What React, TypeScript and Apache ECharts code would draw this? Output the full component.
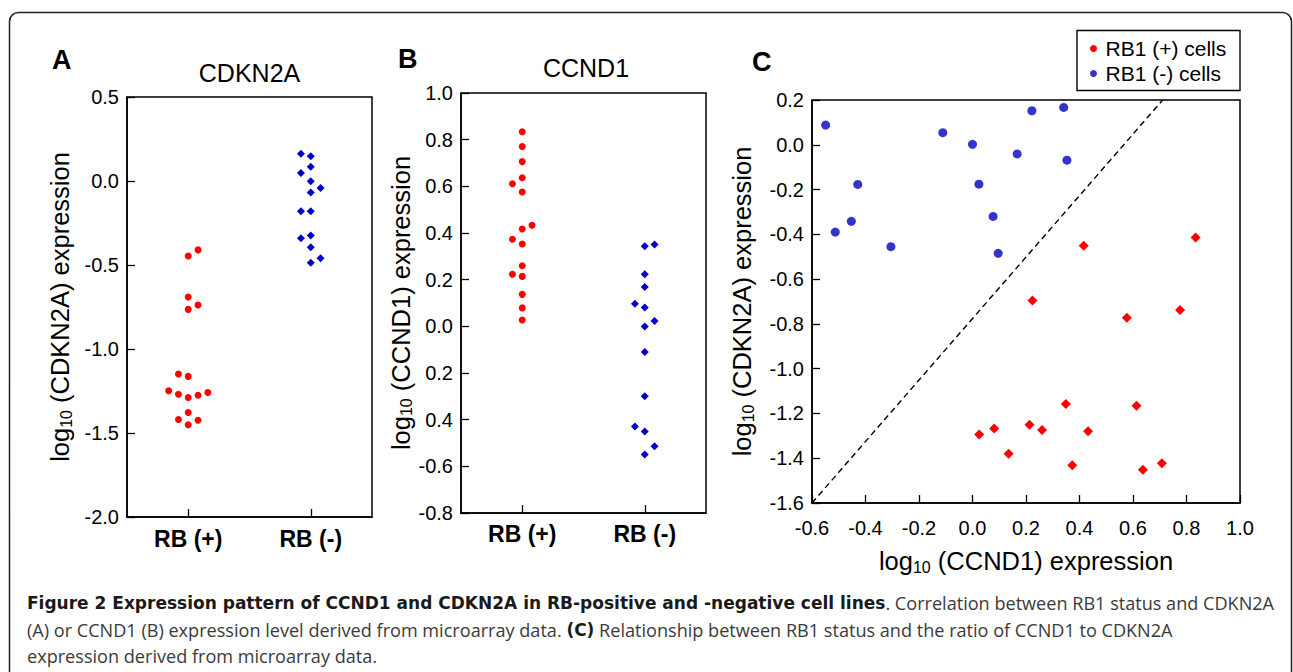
import React, { useEffect, useRef } from 'react';
import * as echarts from 'echarts';

// ---------- data ----------
const groupLabels = ['RB (+)', 'RB (-)'];
const laneWidth = 0.08;

// Panel A: log10 CDKN2A expression
const cdkn2aPosValues = [-0.41, -0.446, -0.69, -0.738, -0.764, -1.149, -1.163, -1.249, -1.269, -1.289, -1.275, -1.259, -1.378, -1.42, -1.424, -1.451];
const cdkn2aPosLanes = [1, 0, 0, 1, 0, -1, 0, -2, -1, 0, 1, 2, 0, -1, 1, 0];
const cdkn2aNegValues = [0.162, 0.148, 0.085, 0.047, -0.001, -0.041, -0.068, -0.18, -0.18, -0.341, -0.325, -0.394, -0.46, -0.486];
const cdkn2aNegLanes = [-1, 0, 0, -1, 0, 1, 0, -1, 0, -1, 0, 0, 1, 0];

// Panel B: log10 CCND1 expression
const ccnd1PosValues = [0.834, 0.771, 0.706, 0.637, 0.611, 0.576, 0.433, 0.417, 0.373, 0.353, 0.26, 0.223, 0.214, 0.137, 0.079, 0.027];
const ccnd1PosLanes = [0, 0, 0, 0, -1, 0, 1, 0, -1, 0, 0, -1, 0, 0, 0, 0];
const ccnd1NegValues = [0.343, 0.351, 0.223, 0.169, 0.097, 0.081, 0.023, -0.001, -0.11, -0.3, -0.429, -0.451, -0.514, -0.549];
const ccnd1NegLanes = [0, 1, 0, 0, -1, 0, 1, 0, 0, 0, -1, 0, 1, 0];

// Panel C: CCND1 (x) vs CDKN2A (y)
const rbPosX = [0.834, 0.416, 0.224, 0.776, 0.577, 0.349, 0.613, 0.213, 0.081, 0.26, 0.432, 0.025, 0.135, 0.373, 0.708, 0.637];
const rbPosY = [-0.414, -0.451, -0.695, -0.738, -0.773, -1.158, -1.166, -1.251, -1.267, -1.274, -1.28, -1.294, -1.38, -1.431, -1.423, -1.451];
const rbNegX = [-0.549, 0.009, 0.222, 0.341, -0.111, 0.0, 0.167, 0.353, -0.429, 0.024, 0.077, -0.453, -0.513, -0.305, 0.096];
const rbNegY = [0.088, 0.215, 0.152, 0.167, 0.054, 0.002, -0.041, -0.069, -0.177, -0.176, -0.32, -0.342, -0.39, -0.455, -0.485];
const diagonalX = [-0.6, 0.711];
const diagonalY = [-1.6, 0.2];

// Tick labels
const cdkn2aTicks = ['-2.0', '-1.5', '-1.0', '-0.5', '0.0', '0.5'];
const ccnd1Ticks = ['-0.8', '-0.6', '0.4', '0.2', '0.0', '0.2', '0.4', '0.6', '0.8', '1.0'];
const legendNames = ['RB1 (+) cells', 'RB1 (-) cells'];

const captionBold1 = 'Figure 2 Expression pattern of CCND1 and CDKN2A in RB-positive and -negative cell lines';
const captionReg1 = '. Correlation between RB1 status and CDKN2A';
const captionReg2a = '(A) or CCND1 (B) expression level derived from microarray data. ';
const captionBold2 = '(C)';
const captionReg2b = ' Relationship between RB1 status and the ratio of CCND1 to CDKN2A';
const captionReg3 = 'expression derived from microarray data.';

// ---------- styles ----------
const FONT = '"Liberation Sans", Arial, Helvetica, sans-serif';
const CAP_FONT = '"Open Sans", "Noto Sans", sans-serif';
const CAP_BOLD_FONT = '"DejaVu Sans", "Open Sans", sans-serif';
const CAP_SIZE = 18.1;
const NAME_SIZE = 25.5;
const RED = '#ff0000';
const BLUE_AB = '#0000c8';
const BLUE_C = '#3434cc';

const lanePoints = (center: number, values: number[], lanes: number[]) =>
  values.map((v, i) => [center + lanes[i] * laneWidth, v]);
const zip = (xs: number[], ys: number[]) => xs.map((x, i) => [x, ys[i]]);

const fmt1 = (v: number) => (Math.abs(v) < 1e-9 ? '0.0' : v.toFixed(1));

const nameRich = {
  sub: { fontSize: 16, fontFamily: FONT, color: '#000', padding: [12, 0, 0, 0] },
};
const nameStyle = { fontFamily: FONT, fontSize: NAME_SIZE, color: '#000', rich: nameRich };

const boxAxisLine = { show: true, onZero: false, lineStyle: { color: '#000', width: 1.5 } };
const tickIn = { show: true, inside: true, length: 8, lineStyle: { color: '#000', width: 1.3 } };

function groupXAxis(gridIndex: number, margin: number) {
  return {
    type: 'value',
    gridIndex,
    min: 0.5,
    max: 2.5,
    axisLine: boxAxisLine,
    splitLine: { show: false },
    axisTick: { ...tickIn, customValues: [1, 2] },
    axisLabel: {
      customValues: [1, 2],
      formatter: (v: number) => groupLabels[Math.round(v) - 1],
      fontFamily: FONT,
      fontSize: 23,
      fontWeight: 'bold',
      color: '#000',
      margin,
    },
  };
}

const capRich = {
  b: { fontFamily: CAP_BOLD_FONT, fontSize: 17, fontWeight: 'bold', fill: '#1a1a1a' },
  r: { fontFamily: CAP_FONT, fontSize: CAP_SIZE, fill: '#3a3a3a' },
};

export default function App() {
  const ref = useRef<HTMLDivElement>(null);

  useEffect(() => {
    if (!ref.current) return;
    const chart = echarts.init(ref.current, undefined, { renderer: 'svg' });

    const option: any = {
      animation: false,
      backgroundColor: '#fff',
      textStyle: { fontFamily: FONT },
      grid: [
        { left: 127, top: 97, width: 245, height: 420, show: true, borderColor: '#000', borderWidth: 1.5 },
        { left: 461, top: 93, width: 245, height: 420, show: true, borderColor: '#000', borderWidth: 1.5 },
        { left: 812, top: 100, width: 428, height: 403, show: true, borderColor: '#000', borderWidth: 1.5 },
      ],
      xAxis: [
        groupXAxis(0, 10),
        groupXAxis(1, 9),
        {
          type: 'value',
          gridIndex: 2,
          min: -0.6,
          max: 1.0,
          interval: 0.2,
          axisLine: boxAxisLine,
          splitLine: { show: false },
          axisTick: tickIn,
          axisLabel: { formatter: fmt1, fontFamily: FONT, fontSize: 20, color: '#000', margin: 15 },
          name: 'log{sub|10} (CCND1) expression',
          nameLocation: 'middle',
          nameGap: 44,
          nameTextStyle: nameStyle,
        },
      ],
      yAxis: [
        {
          type: 'value',
          gridIndex: 0,
          min: -2.0,
          max: 0.5,
          interval: 0.5,
          axisLine: boxAxisLine,
          splitLine: { show: false },
          axisTick: tickIn,
          axisLabel: {
            formatter: (v: number) => cdkn2aTicks[Math.round((v + 2.0) / 0.5)],
            fontFamily: FONT,
            fontSize: 20,
            color: '#000',
            margin: 8,
          },
          name: 'log{sub|10} (CDKN2A) expression',
          nameLocation: 'middle',
          nameGap: 53,
          nameTextStyle: nameStyle,
        },
        {
          type: 'value',
          gridIndex: 1,
          min: -0.8,
          max: 1.0,
          interval: 0.2,
          axisLine: boxAxisLine,
          splitLine: { show: false },
          axisTick: tickIn,
          axisLabel: {
            formatter: (v: number) => ccnd1Ticks[Math.round((v + 0.8) / 0.2)],
            fontFamily: FONT,
            fontSize: 20,
            color: '#000',
            margin: 8,
          },
          name: 'log{sub|10} (CCND1) expression',
          nameLocation: 'middle',
          nameGap: 45,
          nameTextStyle: nameStyle,
        },
        {
          type: 'value',
          gridIndex: 2,
          min: -1.6,
          max: 0.2,
          interval: 0.2,
          axisLine: boxAxisLine,
          splitLine: { show: false },
          axisTick: tickIn,
          axisLabel: { formatter: fmt1, fontFamily: FONT, fontSize: 20, color: '#000', margin: 8 },
          name: 'log{sub|10} (CDKN2A) expression',
          nameLocation: 'middle',
          nameGap: 56,
          nameTextStyle: nameStyle,
        },
      ],
      legend: {
        orient: 'vertical',
        left: 1080,
        top: 30,
        padding: [8, 10, 7, 10],
        itemWidth: 14,
        itemHeight: 7,
        itemGap: 4,
        selectedMode: false,
        textStyle: { fontFamily: FONT, fontSize: 21, lineHeight: 21, color: '#000' },
        data: [
          { name: legendNames[0], icon: 'circle', itemStyle: { color: RED, opacity: 1 } },
          { name: legendNames[1], icon: 'circle', itemStyle: { color: BLUE_C, opacity: 1 } },
        ],
      },
      series: [
        {
          name: 'A RB+',
          type: 'scatter',
          xAxisIndex: 0,
          yAxisIndex: 0,
          symbol: 'circle',
          symbolSize: 7,
          itemStyle: { color: RED, opacity: 1 },
          data: lanePoints(1, cdkn2aPosValues, cdkn2aPosLanes),
        },
        {
          name: 'A RB-',
          type: 'scatter',
          xAxisIndex: 0,
          yAxisIndex: 0,
          symbol: 'diamond',
          symbolSize: 8,
          itemStyle: { color: BLUE_AB, opacity: 1 },
          data: lanePoints(2, cdkn2aNegValues, cdkn2aNegLanes),
        },
        {
          name: 'B RB+',
          type: 'scatter',
          xAxisIndex: 1,
          yAxisIndex: 1,
          symbol: 'circle',
          symbolSize: 7,
          itemStyle: { color: RED, opacity: 1 },
          data: lanePoints(1, ccnd1PosValues, ccnd1PosLanes),
        },
        {
          name: 'B RB-',
          type: 'scatter',
          xAxisIndex: 1,
          yAxisIndex: 1,
          symbol: 'diamond',
          symbolSize: 8,
          itemStyle: { color: BLUE_AB, opacity: 1 },
          data: lanePoints(2, ccnd1NegValues, ccnd1NegLanes),
        },
        {
          name: 'diagonal',
          type: 'line',
          xAxisIndex: 2,
          yAxisIndex: 2,
          symbol: 'none',
          lineStyle: { color: '#000', width: 1.4, type: [6, 4] },
          data: zip(diagonalX, diagonalY),
          z: 1,
        },
        {
          name: legendNames[0],
          type: 'scatter',
          xAxisIndex: 2,
          yAxisIndex: 2,
          symbol: 'diamond',
          symbolSize: 10,
          itemStyle: { color: RED, opacity: 1 },
          data: zip(rbPosX, rbPosY),
          z: 3,
        },
        {
          name: legendNames[1],
          type: 'scatter',
          xAxisIndex: 2,
          yAxisIndex: 2,
          symbol: 'circle',
          symbolSize: 9,
          clip: true,
          itemStyle: { color: BLUE_C, opacity: 1 },
          data: zip(rbNegX, rbNegY),
          z: 3,
        },
      ],
      graphic: [
        {
          type: 'rect',
          z: -10,
          shape: { x: 9.5, y: 12.5, width: 1282, height: 720, r: 9 },
          style: { fill: 'none', stroke: '#222', lineWidth: 1.5 },
        },
        {
          type: 'rect',
          z: -5,
          shape: { x: 1077, y: 30.5, width: 163, height: 60 },
          style: { fill: 'none', stroke: '#000', lineWidth: 1.4 },
        },
        { type: 'text', x: 52, y: 60, style: { text: 'A', fontFamily: FONT, fontSize: 27, fontWeight: 'bold', fill: '#000', verticalAlign: 'middle' } },
        { type: 'text', x: 398, y: 59, style: { text: 'B', fontFamily: FONT, fontSize: 27, fontWeight: 'bold', fill: '#000', verticalAlign: 'middle' } },
        { type: 'text', x: 752, y: 62, style: { text: 'C', fontFamily: FONT, fontSize: 27, fontWeight: 'bold', fill: '#000', verticalAlign: 'middle' } },
        { type: 'text', x: 249.5, y: 73, style: { text: 'CDKN2A', fontFamily: FONT, fontSize: 25, fill: '#000', align: 'center', verticalAlign: 'middle' } },
        { type: 'text', x: 586, y: 68, style: { text: 'CCND1', fontFamily: FONT, fontSize: 25, fill: '#000', align: 'center', verticalAlign: 'middle' } },
        {
          type: 'text',
          x: 27,
          y: 603,
          style: {
            text: '{b|' + captionBold1 + '}{r|' + captionReg1 + '}',
            verticalAlign: 'middle',
            rich: capRich,
          },
        },
        {
          type: 'text',
          x: 27,
          y: 630,
          style: {
            text: '{r|' + captionReg2a + '}{b|' + captionBold2 + '}{r|' + captionReg2b + '}',
            verticalAlign: 'middle',
            rich: capRich,
          },
        },
        {
          type: 'text',
          x: 27,
          y: 656,
          style: {
            text: captionReg3,
            verticalAlign: 'middle',
            fontFamily: CAP_FONT,
            fontSize: CAP_SIZE,
            fill: '#3a3a3a',
          },
        },
      ],
    };

    chart.setOption(option);
    return () => chart.dispose();
  }, []);

  return (
    <div
      ref={ref}
      style={{ position: 'absolute', left: 0, top: 0, width: 1293, height: 672, background: '#fff' }}
    />
  );
}
